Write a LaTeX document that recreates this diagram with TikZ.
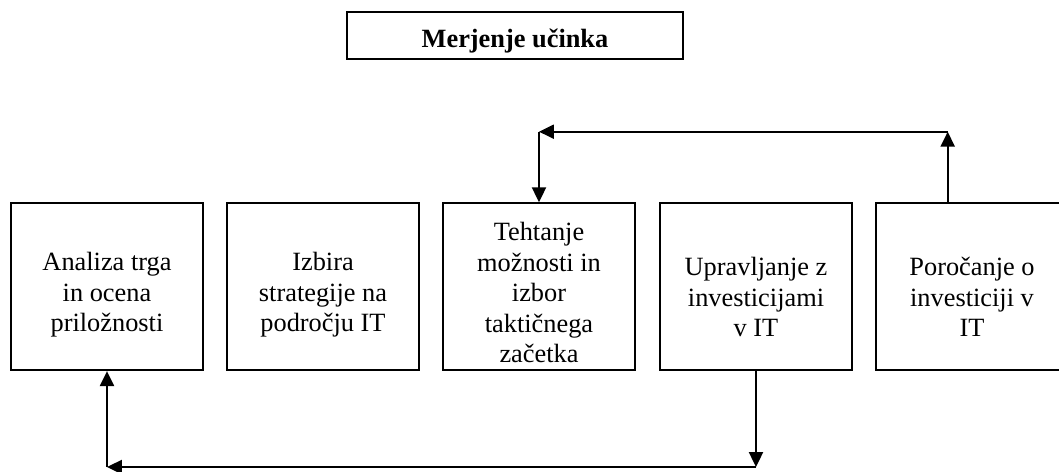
\documentclass[tikz,border=0pt]{standalone}
\usepackage{fontspec}
\setmainfont{Liberation Serif}
\usetikzlibrary{arrows.meta}
\tikzset{>={Triangle[length=8.5pt,width=8pt]}}
\tikzset{box/.style={draw, line width=1.1pt, minimum width=3.84cm, minimum height=3.34cm, inner sep=0pt},
  lbl/.style={anchor=north, align=center, inner sep=0pt, font=\fontsize{15pt}{17.4pt}\selectfont},
  link/.style={line width=1.1pt}}

\begin{document}
\begin{tikzpicture}[x=0.02cm, y=-0.02cm]
\useasboundingbox (0,0) rectangle (1059,471);
\clip (0,0) rectangle (1059,471);
\node[box, minimum width=6.72cm, minimum height=0.94cm] (naslov) at (515,35.5) {};
\node[anchor=base, inner sep=0pt, font=\fontsize{15pt}{17.4pt}\selectfont\bfseries] (naslovt) at (515,47.3) {Merjenje učinka};
\node[box] (b1) at (107,286.7) {};
\node[box] (b2) at (323,286.7) {};
\node[box] (b3) at (539,286.7) {};
\node[box] (b4) at (756,286.7) {};
\node[box] (b5) at (972,286.7) {};
\node[lbl] (t1) at (107,252) {Analiza trga\\in ocena\\priložnosti};
\node[lbl] (t2) at (323,252) {Izbira\\strategije na\\področju IT};
\node[lbl] (t3) at (539,222) {Tehtanje\\možnosti in\\izbor\\taktičnega\\začetka};
\node[lbl] (t4) at (756,257) {Upravljanje z\\investicijami\\v IT};
\node[lbl] (t5) at (972,257) {Poročanje o\\investiciji v\\IT};
\coordinate (z1) at (947.7,131.7);
\coordinate (z2) at (539,131.7);
\coordinate (s1) at (756,467);
\coordinate (s2) at (107,467);
\draw[link,->] (b5.north -| z1) -- (z1);
\draw[link,->] (z1) -- (z2);
\draw[link,->] (z2) -- (b3.north);
\draw[link,->] (b4.south) -- (s1);
\draw[link,->] (s1) -- (s2);
\draw[link,->] (s2) -- (b1.south);
\end{tikzpicture}
\end{document}
